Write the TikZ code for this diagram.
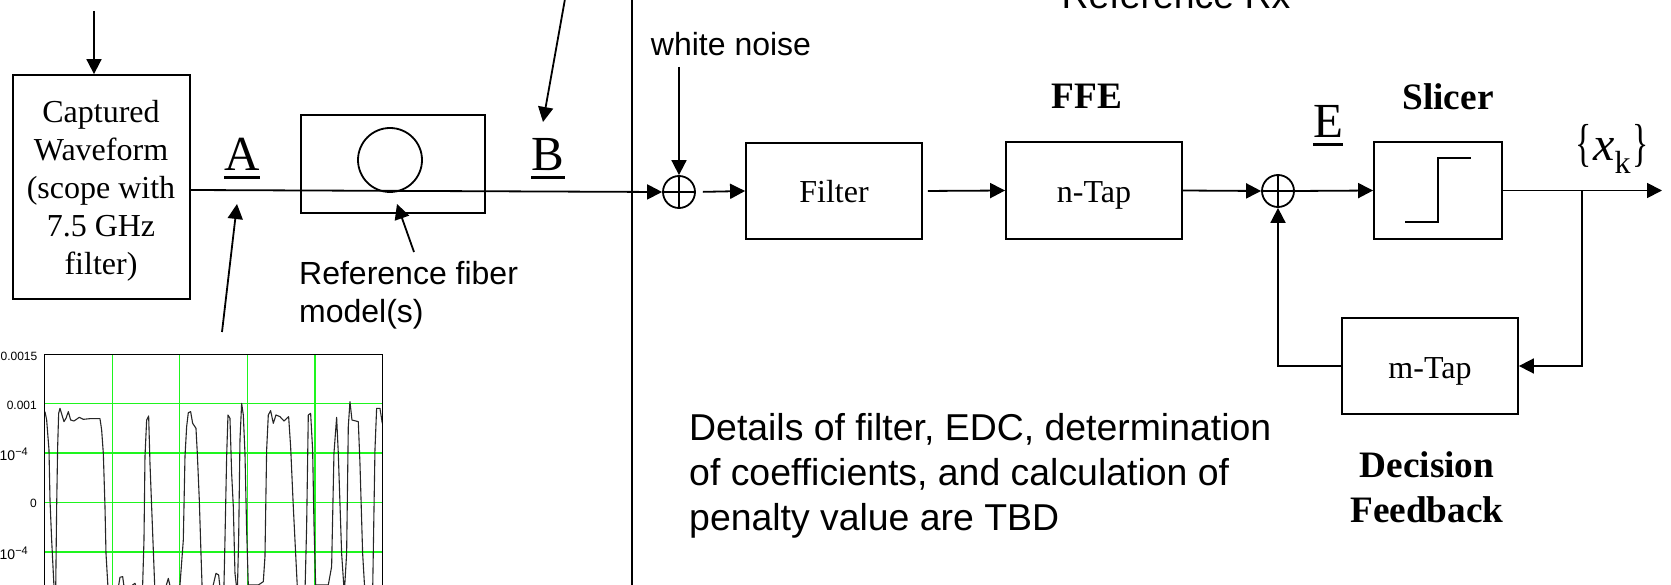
\documentclass[tikz,border=0pt]{standalone}
\usepackage{fontspec}
\setmainfont{Liberation Serif}
\setsansfont{Liberation Sans}
\usetikzlibrary{arrows.meta}
\tikzset{
  px/.style={x=1pt,y=-1pt},
  ln/.style={line width=1.8pt,black},
  arr/.style={ln,-{Triangle[length=15pt,width=15pt]}},
  blockbox/.style={draw,ln,rectangle,inner sep=0pt,text depth=0pt,font=\fontsize{32}{38}\selectfont},
  sumnode/.style={draw,ln,circle,inner sep=0pt,minimum size=32pt},
  bold/.style={font=\fontsize{37.3}{45}\selectfont\bfseries,align=center,inner sep=0pt},
  letter/.style={font=\fontsize{49}{52}\selectfont,inner sep=0pt,anchor=base},
  ulstyle/.style={line width=2.6pt,black},
  sans/.style={font=\sffamily\fontsize{32}{44}\selectfont,inner sep=0pt,align=left},
  tick/.style={font=\sffamily\fontsize{12}{14}\selectfont,inner sep=0pt,anchor=east},
  grn/.style={line width=1.5pt,color={rgb,255:red,30;green,245;blue,30}}
}
\newcommand{\tenfour}{\fontsize{14}{14}\selectfont\textperiodcentered 10\raisebox{5pt}{\fontsize{11}{11}\selectfont −4}}
\begin{document}
\begin{tikzpicture}[px]
\useasboundingbox (0,0) rectangle (1671,585);
% blocks
\node[blockbox,minimum width=177pt,minimum height=224pt] (cap) at (101.5,187) {};
\node[inner sep=0pt,align=center,font=\fontsize{32}{38}\selectfont] (capt) at (101,191) {Captured\\Waveform\\(scope with\\7.5 GHz\\filter)};
\node[blockbox,minimum width=184pt,minimum height=98pt] (fib) at (393,164) {};
\node[draw,ln,circle,inner sep=0pt,minimum size=64pt] (fc) at (390,160) {};
\node[sumnode] (s1) at (679,192) {};
\node[blockbox,minimum width=176pt,minimum height=96pt] (filt) at (834,191) {Filter};
\node[blockbox,text height=25pt,minimum width=176pt,minimum height=97pt] (ffe) at (1094,190.5) {n-Tap};
\node[sumnode] (s2) at (1278,191) {};
\node[blockbox,minimum width=128pt,minimum height=97pt] (sl) at (1438,190.5) {};
\node[blockbox,text height=25pt,minimum width=176pt,minimum height=96pt] (mt) at (1430,366) {m-Tap};
% plus signs
\draw[ln] (s1.west)--(s1.east) (s1.north)--(s1.south);
\draw[ln] (s2.west)--(s2.east) (s2.north)--(s2.south);
% slicer step
\coordinate (st1) at (1405,222); \coordinate (st2) at (1438,222);
\coordinate (st3) at (1438,158); \coordinate (st4) at (1471,158);
\draw[ln] (st1)--(st2)--(st3)--(st4);
% free ends
\coordinate (topA) at (94,11);
\coordinate (topB) at (565,-1);
\coordinate (tipB) at (543,122);
\coordinate (capout) at (190,190);
\coordinate (sA) at (222,332);
\coordinate (tA) at (237,204);
\coordinate (sF) at (414,252);
\coordinate (tF) at (397,204);
\coordinate (wn) at (679,67);
\coordinate (branch) at (1582,190.5);
\coordinate (out) at (1662,190.5);
\coordinate (bl) at (1582,366);
\coordinate (tr) at (1278,366);
\coordinate (d1t) at (632,-1);
\coordinate (d1b) at (632,586);
% connectors
\draw[arr] (topA)--(topA|-cap.north);
\draw[arr] (topB)--(tipB);
\draw[arr] (capout)--(s1.west);
\draw[arr] (sA)--(tA);
\draw[arr] (sF)--(tF);
\draw[ln] (d1t)--(d1b);
\draw[arr] (wn)--(s1.north);
\draw[arr,shorten <=7pt] (s1.east)--(filt.west);
\draw[arr,shorten <=5pt] (filt.east)--(ffe.west);
\draw[arr] (ffe.east)--(s2.west);
\draw[arr] (s2.east)--(sl.west);
\draw[arr] (sl.east)--(out);
\draw[arr] (branch)--(bl)--(mt.east);
\draw[arr] (mt.west)--(tr)--(s2.south);
% labels
\node[letter] (la) at (242,171) {A};
\node[letter] (lb) at (548,171) {B};
\node[letter] (le) at (1328,138) {E};
\draw[ulstyle] ([yshift=-6.5pt]la.base west)--([yshift=-6.5pt]la.base east);
\draw[ulstyle] ([yshift=-6.5pt]lb.base west)--([yshift=-6.5pt]lb.base east);
\draw[ulstyle] ([yshift=-6.5pt]le.base west)--([yshift=-6.5pt]le.base east);
\node[bold] (lffe) at (1087,96) {FFE};
\node[bold] (lsl) at (1448,97) {Slicer};
\node[bold] (ldf) at (1427,487) {Decision\\Feedback};
\node[inner sep=0pt,anchor=base,font=\fontsize{52}{54}\selectfont] (lx) at (1612,161) {\scalebox{.65}[1]{\{}\hspace{2pt}{\fontsize{48}{50}\selectfont\itshape x}\raisebox{-13pt}{\fontsize{32}{34}\selectfont k}\hspace{2pt}\scalebox{.65}[1]{\}}};
\node[sans] (lw) at (731,44) {white noise};
\node[sans,anchor=west,font=\sffamily\fontsize{32}{38}\selectfont] (lr) at (299,295) {Reference fiber\\model(s)};
\node[sans,anchor=west,font=\sffamily\fontsize{37.4}{44.7}\selectfont] (ld) at (689,476) {Details of filter, EDC, determination\\of coefficients, and calculation of\\penalty value are TBD};
\node[sans,anchor=base,font=\sffamily\fontsize{37.4}{44}\selectfont] (lref) at (1176,9) {Reference Rx};
% plot
\coordinate (pa) at (44.7,354.3);
\coordinate (pb) at (382.7,590);
\begin{scope}
\clip (pa) rectangle (pb);
\draw[grn] (112.3,354)--(112.3,590) (179.7,354)--(179.7,590) (247.3,354)--(247.3,590) (315,354)--(315,590);
\draw[grn] (44,403.5)--(383,403.5) (44,453)--(383,453) (44,502.5)--(383,502.5) (44,552)--(383,552);
\begin{scope}[shift={(0,340)},x=.3333pt,y=-.3333pt]
\draw[line width=1.1pt,black!85,line join=round] (135,215)--(140,240)--(147,330)--(150,480)--(155,600)--(163,760)--(167,760)--(170,500)--(173,320)--(176,220)--(180,205)--(186,225)--(192,245)--(198,235)--(205,215)--(212,240)--(222,243)--(238,232)--(250,238)--(270,236)--(300,236)--(305,270)--(310,340)--(315,500)--(318,640)--(325,760)--(352,760)--(360,712)--(368,710)--(375,760)--(398,735)--(405,730)--(415,760)--(428,735)--(432,600)--(435,350)--(440,240)--(446,228)--(450,370)--(455,500)--(460,630)--(465,760)--(492,760)--(505,715)--(515,760)--(540,735)--(550,600)--(555,350)--(560,260)--(565,218)--(572,215)--(578,250)--(588,265)--(592,340)--(598,480)--(603,640)--(607,760)--(634,760)--(648,700)--(656,705)--(662,760)--(672,735)--(675,600)--(680,350)--(684,225)--(690,235)--(695,400)--(700,500)--(705,700)--(712,760)--(716,600)--(720,300)--(725,190)--(730,225)--(735,340)--(740,570)--(745,735)--(775,735)--(790,725)--(795,650)--(800,330)--(805,225)--(812,212)--(820,250)--(828,225)--(840,230)--(852,243)--(866,230)--(872,320)--(880,500)--(887,640)--(893,760)--(915,760)--(920,560)--(925,225)--(932,220)--(938,330)--(942,550)--(947,735)--(985,735)--(995,680)--(1002,340)--(1010,232)--(1015,340)--(1025,640)--(1033,760)--(1040,640)--(1045,260)--(1050,185)--(1056,240)--(1075,245)--(1080,370)--(1088,640)--(1095,760)--(1118,760)--(1125,330)--(1130,205)--(1140,205)--(1147,250);
\end{scope}
\end{scope}
\draw[line width=1.2pt,black] (44.7,590)--(pa)--(382.7,354.3)--(382.7,590);
\node[tick] (t1) at (37.5,356) {0.0015};
\node[tick] (t2) at (37,405) {0.001};
\node[tick] (t3) at (28,454) {\tenfour};
\node[tick] (t4) at (37,503) {0};
\node[tick] (t5) at (28,553) {\tenfour};
\end{tikzpicture}
\end{document}
